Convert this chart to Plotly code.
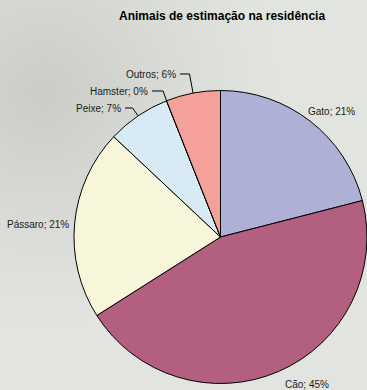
import math
import zlib
import struct
import base64
import plotly.graph_objects as go

# Pet ownership shares (percent), clockwise from 12 o'clock
categories = ["Gato", "Cão", "Pássaro", "Peixe", "Hamster", "Outros"]
shares = [21, 45, 21, 7, 0, 6]
colors = ["#AEB0D5", "#B35F7F", "#F8F6DA", "#D8EBF5", "#D8EBF5", "#F4A19B"]

W, H = 367, 390
CX, CY, R = 220.5, 237.0, 146.5  # pie centre / radius in pixels


def paper(x, y):
    return x / W, 1 - y / H


def backdrop_png(w=46, h=49):
    """Soft grey wash, a little darker toward the upper left, as a PNG data URI."""
    base = (226, 228, 223)
    dark = (203, 206, 200)
    rows = []
    for j in range(h):
        row = bytearray([0])
        for i in range(w):
            x, y = i / (w - 1) * W, j / (h - 1) * H
            d = math.hypot((x - 40) / 230, (y - 90) / 230)
            t = max(0.0, 1 - d) ** 1.2
            t = min(t, 1.0)
            row += bytes(int(b + (k - b) * t) for b, k in zip(base, dark))
        rows.append(bytes(row))
    raw = b"".join(rows)

    def chunk(tag, data):
        c = struct.pack(">I", len(data)) + tag + data
        return c + struct.pack(">I", zlib.crc32(tag + data) & 0xFFFFFFFF)

    png = (b"\x89PNG\r\n\x1a\n"
           + chunk(b"IHDR", struct.pack(">IIBBBBB", w, h, 8, 2, 0, 0, 0))
           + chunk(b"IDAT", zlib.compress(raw, 9))
           + chunk(b"IEND", b""))
    return "data:image/png;base64," + base64.b64encode(png).decode()


dom_x = [(CX - R) / W, (CX + R) / W]
dom_y = [1 - (CY + R) / H, 1 - (CY - R) / H]

fig = go.Figure(go.Pie(
    labels=categories,
    values=shares,
    sort=False,
    direction="clockwise",
    rotation=0,
    marker=dict(colors=colors, line=dict(color="#000000", width=1)),
    textinfo="none",
    hoverinfo="label+percent",
    showlegend=False,
    domain=dict(x=dom_x, y=dom_y),
))

# label placement: (text anchor x, y, xanchor, radial elbow length or None)
placement = {
    "Gato": (306, 111, "left", None),
    "Cão": (283, 384, "left", None),
    "Pássaro": (71, 225, "right", None),
    "Peixe": (123, 108, "right", 10),
    "Hamster": (150, 91, "right", 9.5),
    "Outros": (178, 74, "right", 19),
}

total = sum(shares)
cum = 0.0
annotations = []
shapes = []
for name, v in zip(categories, shares):
    mid = (cum + v / 2) / total * 2 * math.pi
    cum += v
    ux, uy = math.sin(mid), -math.cos(mid)
    tx, ty, anchor, elbow = placement[name]
    ax, ay = paper(tx, ty)
    annotations.append(dict(
        x=ax, y=ay, xref="paper", yref="paper", xanchor=anchor, yanchor="middle",
        text=f"{name}; {v}%", showarrow=False,
        font=dict(family="Liberation Sans, Arial, sans-serif", size=10, color="#1a1a1a"),
    ))
    if elbow is not None:
        ex, ey = CX + R * ux, CY + R * uy
        bx, by = ex + elbow * ux, ey + elbow * uy
        pts = [(ex, ey), (bx, ty), (tx + 2, ty)]
        path = "M " + " L ".join(f"{paper(px, py)[0]:.5f},{paper(px, py)[1]:.5f}" for px, py in pts)
        shapes.append(dict(type="path", path=path, xref="paper", yref="paper",
                           line=dict(color="#000000", width=1)))

annotations.append(dict(
    x=paper(222, 16)[0], y=paper(222, 16)[1], xref="paper", yref="paper",
    xanchor="center", yanchor="middle", showarrow=False,
    text="<b>Animais de estimação na residência</b>",
    font=dict(family="Liberation Sans, Arial, sans-serif", size=12, color="#000000"),
))

fig.update_layout(
    width=W, height=H,
    margin=dict(l=0, r=0, t=0, b=0),
    paper_bgcolor="#E2E4DF",
    plot_bgcolor="rgba(0,0,0,0)",
    annotations=annotations,
    shapes=shapes,
    images=[dict(source=backdrop_png(), xref="paper", yref="paper",
                 x=0, y=1, sizex=1, sizey=1, xanchor="left", yanchor="top",
                 sizing="stretch", layer="below")],
)

fig.write_html("out.html")
